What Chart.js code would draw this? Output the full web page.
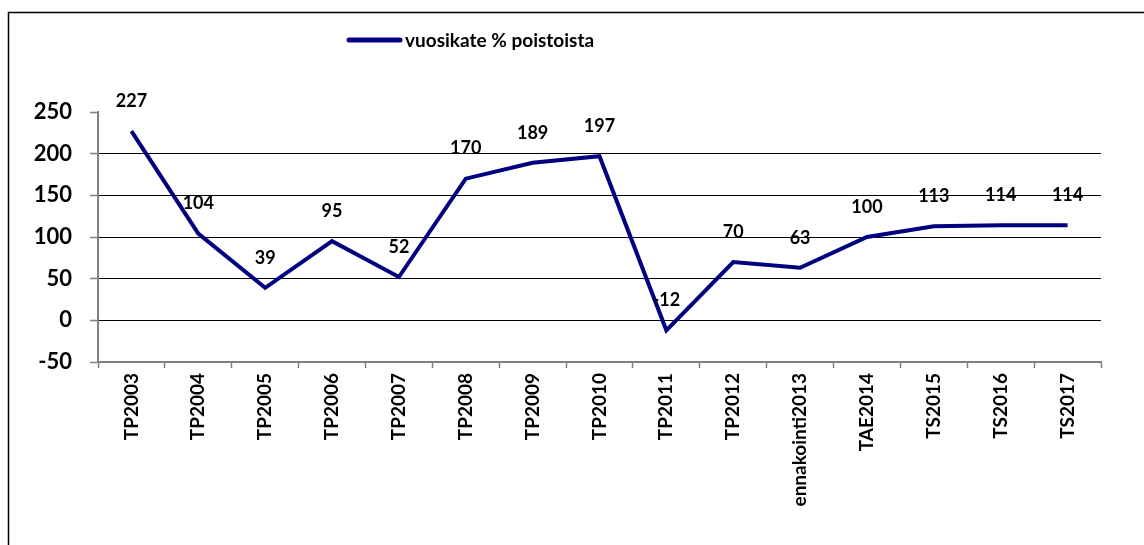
<!DOCTYPE html>
<html><head><meta charset="utf-8">
<script src="https://cdn.jsdelivr.net/npm/chart.js@4/dist/chart.umd.min.js"></script>
<style>html,body{margin:0;padding:0;background:#fff;}#wrap{position:absolute;left:0;top:0;width:1144px;height:545px;}</style>
</head><body><div id="wrap"><canvas id="c" width="1144" height="545"></canvas></div>
<script>
const categories = ["TP2003","TP2004","TP2005","TP2006","TP2007","TP2008","TP2009","TP2010","TP2011","TP2012","ennakointi2013","TAE2014","TS2015","TS2016","TS2017"];
const values = [227,104,39,95,52,170,189,197,-12,70,63,100,113,114,114];
const seriesName = "vuosikate % poistoista";
const yTicks = [-50,0,50,100,150,200,250];

const FONT = "Lato, 'Open Sans', sans-serif";

const framePlugin = {
  id: 'frame',
  beforeDraw(chart){
    const c = chart.ctx;
    c.save();
    c.fillStyle = '#fff';
    c.fillRect(0,0,chart.width,chart.height);
    c.strokeStyle = '#000';
    c.lineWidth = 1.5;
    c.strokeRect(8.5,12.5,1140,540);
    c.restore();
  }
};
const legendPlugin = {
  id: 'customLegend',
  afterDraw(chart){
    const c = chart.ctx;
    c.save();
    c.strokeStyle = '#000080';
    c.lineWidth = 5;
    c.lineCap = 'round';
    c.beginPath(); c.moveTo(349,40); c.lineTo(400,40); c.stroke();
    c.fillStyle = '#000';
    c.font = "bold 19px " + FONT;
    c.textBaseline = 'middle';
    c.textAlign = 'left';
    c.fillText(chart.data.datasets[0].label, 405, 41);
    c.restore();
  }
};
const labelPlugin = {
  id: 'dataLabels',
  afterDatasetsDraw(chart){
    const c = chart.ctx;
    const meta = chart.getDatasetMeta(0);
    const ds = chart.data.datasets[0];
    c.save();
    c.fillStyle = '#000';
    c.font = "bold 18px " + FONT;
    c.textAlign = 'center';
    c.textBaseline = 'middle';
    meta.data.forEach((p,i)=>{
      c.fillText(String(ds.data[i]), p.x, p.y - 30);
    });
    c.restore();
  }
};

new Chart(document.getElementById('c'), {
  type: 'line',
  data: {
    labels: categories,
    datasets: [{
      label: seriesName,
      data: values,
      borderColor: '#000080',
      borderWidth: 4,
      pointRadius: 0,
      tension: 0,
      fill: false
    }]
  },
  options: {
    responsive: false,
    animation: false,
    events: [],
    layout: { padding: { top: 112, right: 43, left: 0, bottom: 0 } },
    plugins: { legend: { display: false }, tooltip: { enabled: false } },
    scales: {
      x: {
        offset: true,
        grid: { offset: true, drawOnChartArea: false, drawTicks: true, tickLength: 6, tickColor: '#808080', tickWidth: 1.5 },
        border: { color: '#808080', width: 2 },
        ticks: { color: '#000', font: { family: FONT, weight: 'bold', size: 19 }, minRotation: 90, maxRotation: 90, padding: 5, autoSkip: false },
        afterFit(s){ s.height = 183; }
      },
      y: {
        min: -50, max: 250,
        afterBuildTicks(s){ s.ticks = yTicks.map(v=>({value:v})); },
        grid: {
          color: ctx => (ctx.tick && (ctx.tick.value === 250 || ctx.tick.value === -50)) ? 'rgba(0,0,0,0)' : '#000',
          lineWidth: 1,
          tickColor: '#808080', tickLength: 8, tickWidth: 1.5
        },
        border: { color: '#808080', width: 2 },
        ticks: { color: '#000', font: { family: FONT, weight: 'bold', size: 22 }, padding: 18 },
        afterFit(s){ s.width = 98; }
      }
    }
  },
  plugins: [framePlugin, legendPlugin, labelPlugin]
});
</script></body></html>
